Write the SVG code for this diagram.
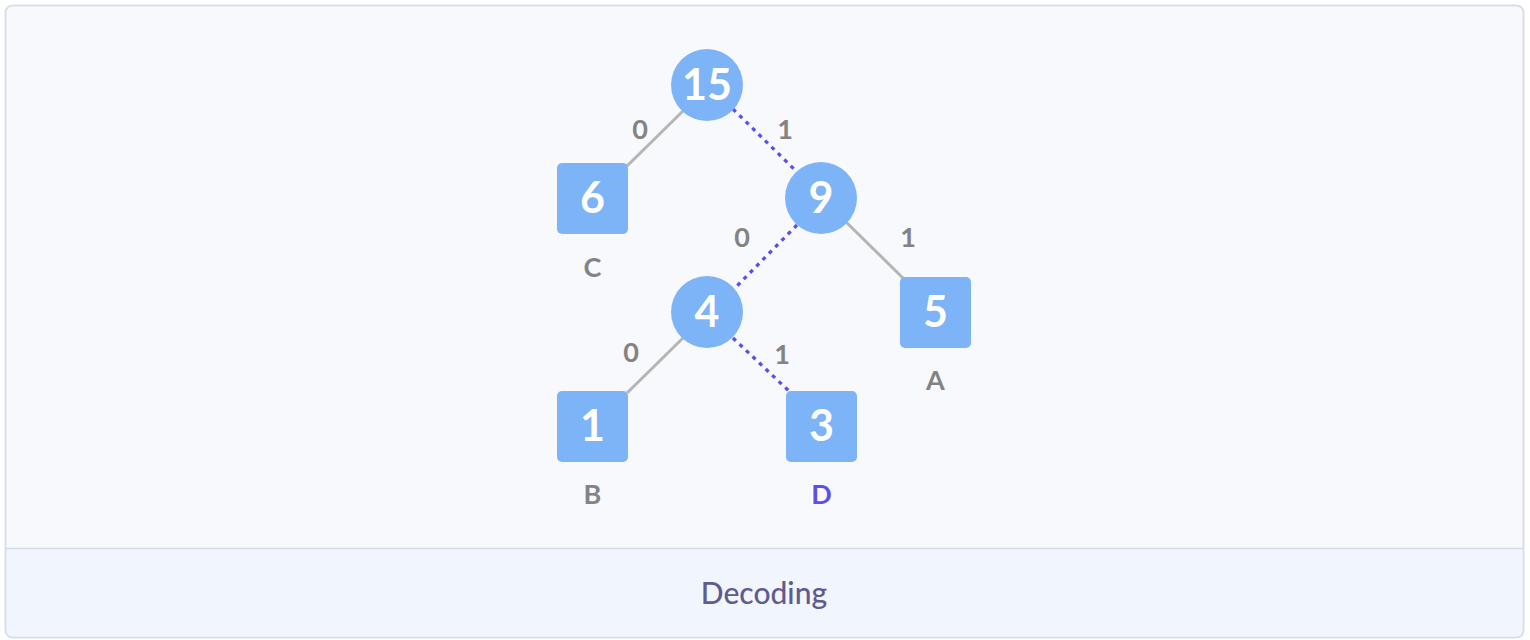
<svg xmlns="http://www.w3.org/2000/svg" width="1530" height="640" viewBox="0 0 1530 640">
<style>
.node{fill:#7db3f7}
.num{font-family:Lato,"Liberation Sans",sans-serif;font-weight:700;font-size:43px;fill:#ffffff;text-anchor:middle}
.lbl{font-family:Lato,"Liberation Sans",sans-serif;font-weight:700;font-size:27px;fill:#838383;text-anchor:middle}
.solid{stroke:#b5b5b5;stroke-width:3;fill:none}
.dash{stroke:#5b4fe8;stroke-width:3.3;fill:none;stroke-dasharray:4 5}
</style>
<rect x="5.5" y="5.5" width="1518" height="632" rx="7" fill="#f8f9fc" stroke="#d6dce8" stroke-width="1.5"/>
<path d="M6.2 548.5 H1522.8 V631 a6.5 6.5 0 0 1 -6.5 6.5 H12.7 a6.5 6.5 0 0 1 -6.5 -6.5 Z" fill="#f1f5fd"/>
<line x1="6" y1="548.5" x2="1523" y2="548.5" stroke="#d6dce8" stroke-width="1.5"/>
<rect x="5.5" y="5.5" width="1518" height="632" rx="7" fill="none" stroke="#d6dce8" stroke-width="1.5"/>
<text x="764" y="604" font-family="Lato,'Liberation Sans',sans-serif" font-size="30" font-weight="500" fill="#5f5b8c" text-anchor="middle">Decoding</text>
<g id="connectors">
<line class="solid" x1="683" y1="111" x2="627" y2="166"/>
<line class="dash" x1="733" y1="109" x2="797" y2="172"/>
<line class="dash" x1="797" y1="225" x2="733" y2="290"/>
<line class="solid" x1="846" y1="222" x2="905" y2="280"/>
<line class="solid" x1="683" y1="338" x2="627" y2="393"/>
<line class="dash" x1="733" y1="338" x2="790" y2="392"/>
<text class="lbl" x="640" y="139">0</text>
<text class="lbl" x="785" y="139">1</text>
<text class="lbl" x="742" y="247">0</text>
<text class="lbl" x="908" y="247">1</text>
<text class="lbl" x="631" y="362">0</text>
<text class="lbl" x="782" y="364">1</text>
</g>
<g id="n15"><circle class="node" cx="707" cy="85" r="36"/><text class="num" x="707" y="100">15</text></g>
<g id="n9"><circle class="node" cx="821" cy="198" r="36"/><text class="num" x="821" y="213">9</text></g>
<g id="n4"><circle class="node" cx="707" cy="312" r="36"/><text class="num" x="707" y="327">4</text></g>
<g id="n6"><rect class="node" x="557" y="163" width="71" height="71" rx="5"/><text class="num" x="592.5" y="213">6</text><text class="lbl" x="592.5" y="277">C</text></g>
<g id="n5"><rect class="node" x="900" y="277" width="71" height="71" rx="5"/><text class="num" x="935.5" y="327">5</text><text class="lbl" x="935.5" y="390">A</text></g>
<g id="n1"><rect class="node" x="557" y="391" width="71" height="71" rx="5"/><text class="num" x="592.5" y="441">1</text><text class="lbl" x="592.5" y="504">B</text></g>
<g id="n3"><rect class="node" x="786" y="391" width="71" height="71" rx="5"/><text class="num" x="821.5" y="441">3</text><text class="lbl" x="821.5" y="504" style="fill:#5b4fe8">D</text></g>
</svg>
